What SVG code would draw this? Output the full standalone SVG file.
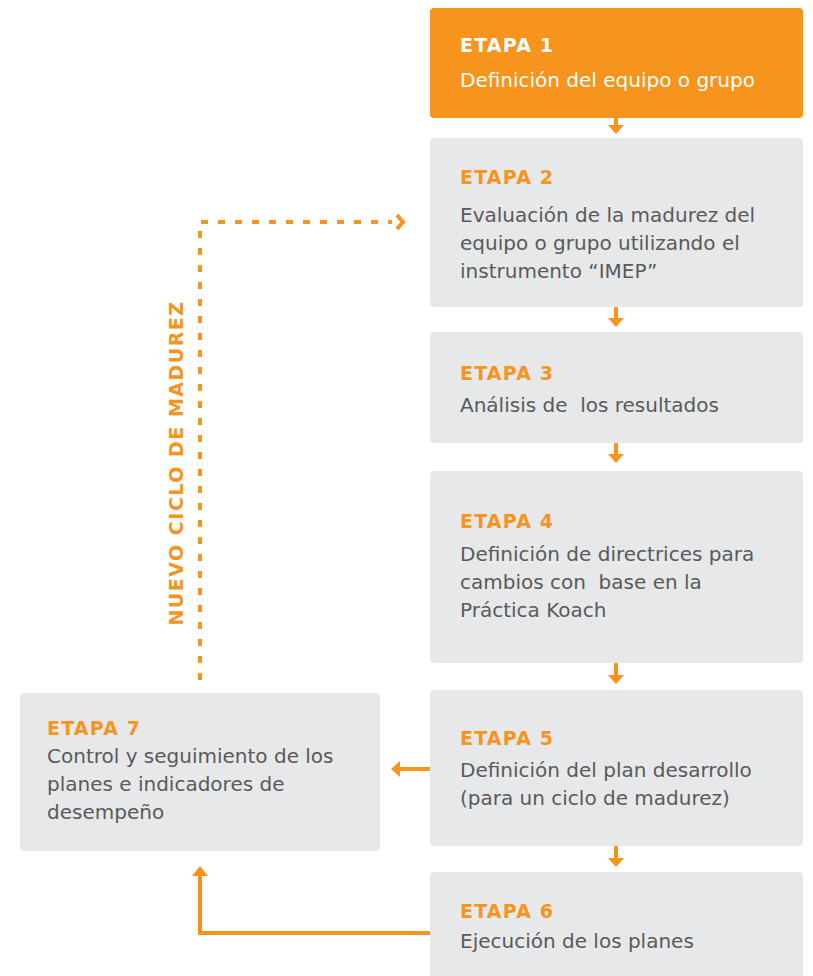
<svg xmlns="http://www.w3.org/2000/svg" width="813" height="976" viewBox="0 0 813 976">
<style>
.box{fill:#E7E8E9}
.t{font-family:"DejaVu Sans","Liberation Sans",sans-serif;font-weight:700;font-size:19px;letter-spacing:1.2px;fill:#F7941D}
.b{font-family:"DejaVu Sans","Liberation Sans",sans-serif;font-size:20px;fill:#5a5a5a}
.ln{stroke:#F7941D;stroke-width:4;fill:none}
.hd{fill:#F7941D}
</style>
<rect width="813" height="976" fill="#ffffff"/>
<g id="connectors">
  <g id="down-arrows">
    <path class="ln" d="M616 118V128"/><path class="hd" d="M608 125L616 134L624 125Z"/>
    <path class="ln" d="M616 307V320"/><path class="hd" d="M608 318L616 327L624 318Z"/>
    <path class="ln" d="M616 443V456"/><path class="hd" d="M608 454L616 463L624 454Z"/>
    <path class="ln" d="M616 663V677"/><path class="hd" d="M608 675L616 684L624 675Z"/>
    <path class="ln" d="M616 846V860"/><path class="hd" d="M608 858L616 867L624 858Z"/>
  </g>
  <path class="ln" d="M430 769H398"/><path class="hd" d="M400 761L391 769L400 777Z"/>
  <path class="ln" d="M430 933H200V874"/><path class="hd" d="M192 876L200 866L208 876Z"/>
  <path class="ln" d="M200 680V222H392" stroke-dasharray="7 10"/>
  <path class="ln" d="M397 215L403 222L397 229" stroke-width="4"/>
  <text class="t" transform="translate(183 463) rotate(-90)" text-anchor="middle" style="font-size:19px;letter-spacing:1.5px">NUEVO CICLO DE MADUREZ</text>
</g>
<g id="n1">
  <rect x="430" y="8" width="373" height="110" rx="4" fill="#F7941D"/>
  <text class="t" x="460" y="52" style="fill:#ffffff">ETAPA 1</text>
  <text class="b" x="460" y="87" style="fill:#ffffff">Definición del equipo o grupo</text>
</g>
<g id="n2">
  <rect class="box" x="430" y="138" width="373" height="169" rx="4"/>
  <text class="t" x="460" y="184">ETAPA 2</text>
  <text class="b" x="460" y="222">Evaluación de la madurez del</text>
  <text class="b" x="460" y="250">equipo o grupo utilizando el</text>
  <text class="b" x="460" y="278">instrumento “IMEP”</text>
</g>
<g id="n3">
  <rect class="box" x="430" y="332" width="373" height="111" rx="4"/>
  <text class="t" x="460" y="380">ETAPA 3</text>
  <text class="b" x="460" y="412" xml:space="preserve">Análisis de  los resultados</text>
</g>
<g id="n4">
  <rect class="box" x="430" y="471" width="373" height="192" rx="4"/>
  <text class="t" x="460" y="528">ETAPA 4</text>
  <text class="b" x="460" y="561">Definición de directrices para</text>
  <text class="b" x="460" y="589" xml:space="preserve">cambios con  base en la</text>
  <text class="b" x="460" y="617">Práctica Koach</text>
</g>
<g id="n5">
  <rect class="box" x="430" y="690" width="373" height="156" rx="4"/>
  <text class="t" x="460" y="745">ETAPA 5</text>
  <text class="b" x="460" y="777">Definición del plan desarrollo</text>
  <text class="b" x="460" y="805">(para un ciclo de madurez)</text>
</g>
<g id="n6">
  <rect class="box" x="430" y="872" width="373" height="110" rx="4"/>
  <text class="t" x="460" y="918">ETAPA 6</text>
  <text class="b" x="460" y="948">Ejecución de los planes</text>
</g>
<g id="n7">
  <rect class="box" x="20" y="693" width="360" height="158" rx="4"/>
  <text class="t" x="47" y="735">ETAPA 7</text>
  <text class="b" x="47" y="763">Control y seguimiento de los</text>
  <text class="b" x="47" y="791">planes e indicadores de</text>
  <text class="b" x="47" y="819">desempeño</text>
</g>
</svg>
